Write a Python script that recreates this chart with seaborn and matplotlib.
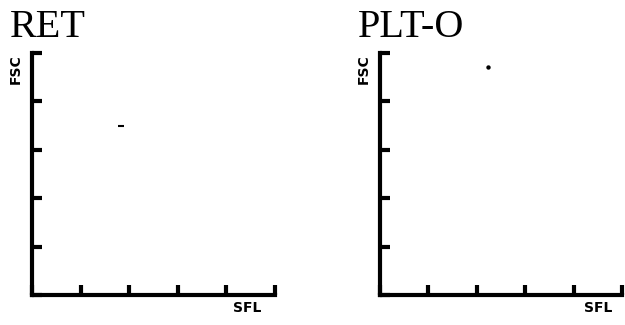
import matplotlib
matplotlib.use('Agg')
import matplotlib.pyplot as plt
import seaborn as sns
import pandas as pd

# Data (axes run 0..5 on both scales)
panel_names = ['RET', 'PLT-O']
ret_sfl = [1.83]
ret_fsc = [3.49]
plt_sfl = [2.23]
plt_fsc = [4.71]
axis_ticks = [0, 1, 2, 3, 4, 5]

sns.set_style('white')

fig = plt.figure(figsize=(6.25, 3.25), dpi=100)

# axes boxes in figure fractions (left, bottom, width, height)
boxes = [
    [32 / 625, 30 / 325, 243 / 625, 242 / 325],
    [380 / 625, 30 / 325, 242 / 625, 242 / 325],
]
data = [
    pd.DataFrame({'SFL': ret_sfl, 'FSC': ret_fsc}),
    pd.DataFrame({'SFL': plt_sfl, 'FSC': plt_fsc}),
]
markers = ['_', 'o']
sizes = [14, 10]
sfl_pos = [247, 599]

for i, (name, box, df, mk, sz) in enumerate(zip(panel_names, boxes, data, markers, sizes)):
    ax = fig.add_axes(box)
    sns.scatterplot(data=df, x='SFL', y='FSC', ax=ax, color='black',
                    marker=mk, s=sz, linewidth=1.5 if mk == '_' else 0)
    ax.set_xlim(0, 5)
    ax.set_ylim(0, 5)
    ax.set_xticks(axis_ticks)
    ax.set_yticks(axis_ticks)
    ax.set_xticklabels([])
    ax.set_yticklabels([])
    ax.set_xlabel('')
    ax.set_ylabel('')
    for side in ['top', 'right']:
        ax.spines[side].set_visible(False)
    for side in ['left', 'bottom']:
        ax.spines[side].set_linewidth(3)
        ax.spines[side].set_color('black')
    ax.tick_params(direction='in', length=7, width=3, color='black',
                   left=True, bottom=True)

    # panel title, axis names
    ax.text(-22 / 243, 1 + 16 / 242, name, transform=ax.transAxes,
            fontsize=29, family='Liberation Serif', color='black',
            ha='left', va='baseline')
    ax.text(-16 / 243, 1 - 16 / 242, 'FSC', transform=ax.transAxes,
            fontsize=10, fontweight='bold', rotation=90, color='black',
            ha='center', va='center')
    left_px = box[0] * 625
    ax.text((sfl_pos[i] - left_px) / 243, -13 / 242, 'SFL', transform=ax.transAxes,
            fontsize=10, fontweight='bold', color='black',
            ha='center', va='center')

fig.savefig('out.png', dpi=100, facecolor='white')
